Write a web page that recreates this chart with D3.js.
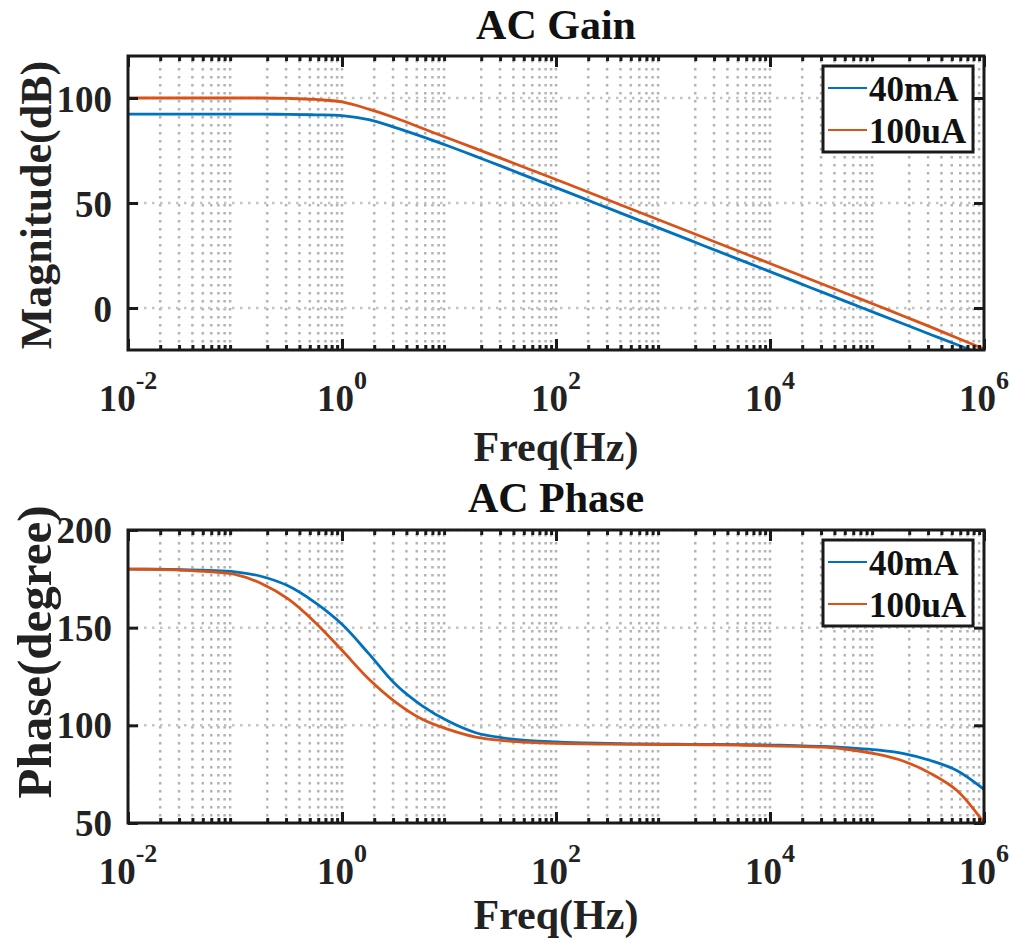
<!DOCTYPE html>
<html>
<head>
<meta charset="utf-8">
<script src="https://cdn.jsdelivr.net/npm/d3@7"></script>
<style>
  body { margin: 0; background: #fff; }
  svg { display: block; font-family: "Liberation Serif", "Times New Roman", serif; font-weight: bold; }
</style>
</head>
<body>
<svg id="chart" width="1016" height="943"></svg>
<script>
// frequency samples (Hz), quarter-decade steps
const freqHz = [0.01, 0.0178, 0.0316, 0.0562, 0.1, 0.178, 0.316, 0.562,
  1, 1.78, 3.16, 5.62, 10, 17.8, 31.6, 56.2, 100, 178, 316, 562,
  1000, 1780, 3160, 5620, 1e4, 1.78e4, 3.16e4, 5.62e4, 1e5, 1.78e5, 3.16e5, 5.62e5, 1e6];

const gain40mA = [92.3, 92.3, 92.3, 92.3, 92.3, 92.3, 92.2, 92.0,
  91.6, 89.7, 85.9, 81.6, 77.0, 72.2, 67.3, 62.3, 57.3, 52.3, 47.3, 42.3,
  37.3, 32.3, 27.3, 22.3, 17.3, 12.3, 7.3, 2.3, -2.7, -7.6, -12.6, -17.5, -22.6];
const gain100uA = [100, 100, 100, 100, 100, 100, 99.8, 99.3,
  98.1, 94.7, 90.5, 85.6, 80.7, 75.9, 71.0, 66.1, 61.2, 56.2, 51.2, 46.2,
  41.2, 36.2, 31.2, 26.2, 21.2, 16.2, 11.2, 6.2, 1.2, -3.9, -9.0, -14.3, -19.5];

const phase40mA = [180, 179.9, 179.7, 179.3, 178.6, 176.2, 171.3, 162.8,
  151.7, 136.7, 121.0, 110.0, 101.9, 96.2, 93.6, 92.2, 91.5, 91.0, 90.7, 90.5,
  90.4, 90.3, 90.2, 90.1, 89.9, 89.6, 89.2, 88.4, 87.4, 85.5, 82.0, 76.8, 67.2];
const phase100uA = [180, 179.8, 179.4, 178.7, 177.3, 172.5, 164.6, 152.7,
  138.4, 123.7, 111.9, 103.1, 97.8, 94.0, 92.2, 91.3, 90.8, 90.5, 90.35, 90.25,
  90.2, 90.1, 90.0, 89.8, 89.5, 89.2, 88.8, 87.5, 85.2, 81.6, 75.4, 66.5, 50.0];

const seriesNames = ["40mA", "100uA"];
const seriesColors = ["#0072BD", "#D95319"];
const xMajorExps = [-2, 0, 2, 4, 6];
const gainTicks = [0, 50, 100];
const phaseTicks = [50, 100, 150, 200];

const svg = d3.select("#chart");
const left = 128, right = 984;

const x = d3.scaleLog().domain([1e-2, 1e6]).range([left, right]);

// minor ticks: 2..9 x 10^k (odd decades get no tick, as in the figure)
let minor = [];
for (let k = -2; k < 6; k++) for (let m = 2; m <= 9; m++) minor.push(m * Math.pow(10, k));
const major = xMajorExps.map(e => Math.pow(10, e));

function panel(cfg) {
  const y = d3.scaleLinear().domain(cfg.domain).range([cfg.bottom, cfg.top]);
  const g = svg.append("g");
  const clipId = "clip" + cfg.id;

  g.append("clipPath").attr("id", clipId)
    .append("rect").attr("x", left).attr("y", cfg.top)
    .attr("width", right - left).attr("height", cfg.bottom - cfg.top);

  // grid
  const grid = g.append("g").attr("clip-path", `url(#${clipId})`);
  grid.selectAll(".vg").data(minor.concat(major))
    .enter().append("line")
      .attr("x1", d => x(d)).attr("x2", d => x(d))
      .attr("y1", cfg.top + 4).attr("y2", cfg.bottom)
      .attr("stroke", "#b3b3b3").attr("stroke-width", 2.5)
      .attr("stroke-dasharray", "2.5,5.5");
  grid.selectAll(".hg").data(cfg.ticks)
    .enter().append("line")
      .attr("x1", left).attr("x2", right)
      .attr("y1", d => y(d)).attr("y2", d => y(d))
      .attr("stroke", "#c4c4c4").attr("stroke-width", 2.5)
      .attr("stroke-dasharray", "2.5,5.5");

  // curves
  const line = d3.line()
    .x(d => x(d[0])).y(d => y(d[1]))
    .curve(d3.curveCatmullRom.alpha(0.5));
  cfg.series.forEach((vals, i) => {
    g.append("path")
      .datum(freqHz.map((f, j) => [f, vals[j]]))
      .attr("clip-path", `url(#${clipId})`)
      .attr("fill", "none")
      .attr("stroke", seriesColors[i])
      .attr("stroke-width", 2.8)
      .attr("d", line);
  });

  // ticks (inward)
  const tickCol = "#1a1a1a";
  function ticks(axis) {
    return sel => { sel.call(axis); sel.select(".domain").remove();
      sel.selectAll("line").attr("stroke", tickCol).attr("stroke-width", 3); };
  }
  g.append("g").attr("transform", `translate(0,${cfg.bottom})`)
    .call(ticks(d3.axisBottom(x).tickValues(minor).tickSize(-5).tickFormat("")));
  g.append("g").attr("transform", `translate(0,${cfg.bottom})`)
    .call(ticks(d3.axisBottom(x).tickValues(major).tickSize(-11).tickFormat("")));
  g.append("g").attr("transform", `translate(0,${cfg.top})`)
    .call(ticks(d3.axisTop(x).tickValues(minor).tickSize(-5).tickFormat("")));
  g.append("g").attr("transform", `translate(0,${cfg.top})`)
    .call(ticks(d3.axisTop(x).tickValues(major).tickSize(-11).tickFormat("")));
  g.append("g").attr("transform", `translate(${left},0)`)
    .call(ticks(d3.axisLeft(y).tickValues(cfg.ticks).tickSize(-10).tickFormat("")));
  g.append("g").attr("transform", `translate(${right},0)`)
    .call(ticks(d3.axisRight(y).tickValues(cfg.ticks).tickSize(-10).tickFormat("")));

  // box
  g.append("rect")
    .attr("x", left).attr("y", cfg.top)
    .attr("width", right - left).attr("height", cfg.bottom - cfg.top)
    .attr("fill", "none").attr("stroke", tickCol).attr("stroke-width", 3);

  // y tick labels
  g.selectAll(".yl").data(cfg.ticks)
    .enter().append("text")
      .attr("x", left - 16).attr("y", d => y(d) + cfg.yLabelShift)
      .attr("text-anchor", "end")
      .attr("font-size", 37).attr("fill", "#222")
      .text(d => d);

  // x tick labels 10^n
  const xl = g.selectAll(".xl").data(xMajorExps)
    .enter().append("text")
      .attr("x", d => x(Math.pow(10, d)))
      .attr("y", cfg.xTickBase)
      .attr("text-anchor", "middle")
      .attr("font-size", 37).attr("fill", "#222");
  xl.append("tspan").text("10");
  xl.append("tspan").attr("dy", -22).attr("font-size", 26).text(d => d);

  // titles and labels
  g.append("text").attr("x", (left + right) / 2).attr("y", cfg.titleBase)
    .attr("text-anchor", "middle").attr("font-size", 42).attr("fill", "#111")
    .text(cfg.title);
  g.append("text").attr("x", (left + right) / 2).attr("y", cfg.xLabelBase)
    .attr("text-anchor", "middle").attr("font-size", 42).attr("fill", "#222")
    .text("Freq(Hz)");
  g.append("text")
    .attr("transform", `translate(51,${cfg.yLabelMid}) rotate(-90)`)
    .attr("text-anchor", "middle").attr("font-size", cfg.yLabelSize).attr("fill", "#222")
    .text(cfg.yLabel);

  // legend
  const lg = g.append("g").attr("transform", `translate(823,${cfg.top + 10})`);
  lg.append("rect").attr("width", 150).attr("height", 86)
    .attr("fill", "#fff").attr("stroke", tickCol).attr("stroke-width", 3);
  seriesNames.forEach((name, i) => {
    const ly = 22 + i * 42;
    lg.append("line").attr("x1", 5).attr("x2", 44).attr("y1", ly).attr("y2", ly)
      .attr("stroke", seriesColors[i]).attr("stroke-width", 2.2);
    lg.append("text").attr("x", 46).attr("y", ly + 13)
      .attr("font-size", 35).attr("fill", "#111").text(name);
  });
}

panel({
  id: "gain", top: 56, bottom: 350, domain: [-20, 120], ticks: gainTicks,
  series: [gain40mA, gain100uA], title: "AC Gain", titleBase: 39,
  yLabel: "Magnitude(dB)", yLabelMid: 205, yLabelSize: 44, yLabelShift: 14,
  xTickBase: 411, xLabelBase: 461
});
panel({
  id: "phase", top: 530, bottom: 823, domain: [50, 200], ticks: phaseTicks,
  series: [phase40mA, phase100uA], title: "AC Phase", titleBase: 512,
  yLabel: "Phase(degree)", yLabelMid: 652, yLabelSize: 49, yLabelShift: 13,
  xTickBase: 884, xLabelBase: 929
});
</script>
</body>
</html>
